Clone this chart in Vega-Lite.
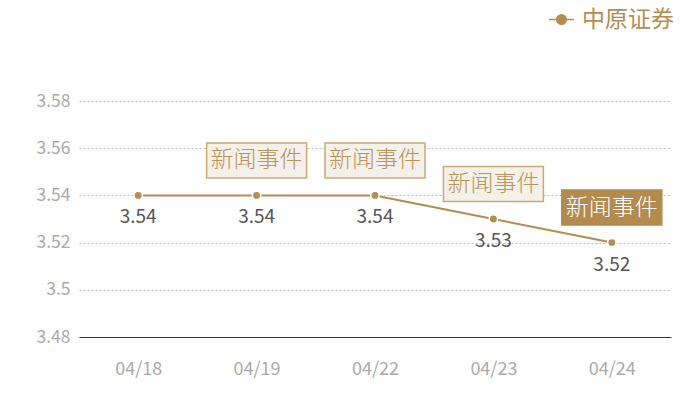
{
  "$schema": "https://vega.github.io/schema/vega-lite/v6.json",
  "width": 592,
  "height": 236,
  "autosize": {"type": "none"},
  "padding": {"left": 79, "top": 101, "right": 29, "bottom": 63},
  "background": "white",
  "config": {
    "font": "Noto Sans CJK SC",
    "view": {"stroke": null}
  },
  "data": {
    "values": [
      {"date": "04/18", "value": 3.54, "event": false, "hl": false, "series": "中原证券"},
      {"date": "04/19", "value": 3.54, "event": true, "hl": false, "series": "中原证券"},
      {"date": "04/22", "value": 3.54, "event": true, "hl": false, "series": "中原证券"},
      {"date": "04/23", "value": 3.53, "event": true, "hl": false, "series": "中原证券"},
      {"date": "04/24", "value": 3.52, "event": true, "hl": true, "series": "中原证券"}
    ]
  },
  "encoding": {
    "x": {
      "field": "date", "type": "ordinal", "sort": null,
      "scale": {"paddingInner": 0, "paddingOuter": 0},
      "axis": {
        "title": null, "labelAngle": 0, "ticks": false,
        "domain": true, "domainColor": "#333333", "domainWidth": 1.2,
        "labelColor": "#aaaaaa", "labelFontSize": 18, "labelPadding": 23,
        "grid": false
      }
    },
    "y": {
      "field": "value", "type": "quantitative",
      "scale": {"domain": [3.48, 3.58], "zero": false, "nice": false},
      "axis": {
        "title": null, "values": [3.48, 3.5, 3.52, 3.54, 3.56, 3.58],
        "format": ".2~f", "ticks": false, "domain": false,
        "labelColor": "#aaaaaa", "labelFontSize": 17.5, "labelPadding": 9,
        "grid": true, "gridColor": "#bbbbbb", "gridDash": [2, 2], "gridWidth": 1
      }
    }
  },
  "layer": [
    {
      "mark": {"type": "line", "color": "#b58d4f", "strokeWidth": 2}
    },
    {
      "mark": {"type": "point", "filled": true, "size": 70, "opacity": 1, "stroke": "white", "strokeWidth": 1.5},
      "encoding": {
        "color": {
          "field": "series", "type": "nominal",
          "scale": {"range": ["#b58d4f"]},
          "legend": {
            "title": null, "orient": "none", "legendX": 469, "legendY": -95,
            "padding": 0,
            "symbolType": "M-1,0H1M-0.38,0a0.38,0.38 0 1,0 0.76,0a0.38,0.38 0 1,0 -0.76,0Z",
            "symbolSize": 625, "symbolStrokeWidth": 1.5,
            "symbolFillColor": "#b58d4f", "symbolStrokeColor": "#b58d4f",
            "labelFontSize": 23, "labelColor": "#b58d4f", "labelOffset": 7, "labelLimit": 200,
            "encode": {"symbols": {"update": {"stroke": {"value": "#b58d4f"}, "strokeWidth": {"value": 1.5}, "fill": {"value": "#b58d4f"}, "opacity": {"value": 1}}}}
          }
        }
      }
    },
    {
      "transform": [{"filter": "datum.event"}],
      "mark": {
        "type": "point", "shape": "M-1,-0.35L1,-0.35L1,0.35L-1,0.35Z",
        "size": 10000, "filled": true, "opacity": 1, "strokeWidth": 1.5, "yOffset": -35
      },
      "encoding": {
        "fill": {"condition": {"test": "datum.hl", "value": "#b38b4e"}, "value": "#f4f0ea"},
        "stroke": {"condition": {"test": "datum.hl", "value": "#b38b4e"}, "value": "#c9aa74"}
      }
    },
    {
      "transform": [{"filter": "datum.event"}],
      "mark": {"type": "text", "text": "新闻事件", "fontSize": 23, "fontWeight": 300, "yOffset": -35, "baseline": "middle", "align": "center"},
      "encoding": {
        "color": {"condition": {"test": "datum.hl", "value": "#ffffff"}, "value": "#b8955a"}
      }
    },
    {
      "mark": {"type": "text", "fontSize": 19, "color": "#555555", "yOffset": 22, "baseline": "middle"},
      "encoding": {
        "text": {"field": "value", "type": "quantitative", "format": ".2f"}
      }
    }
  ]
}
